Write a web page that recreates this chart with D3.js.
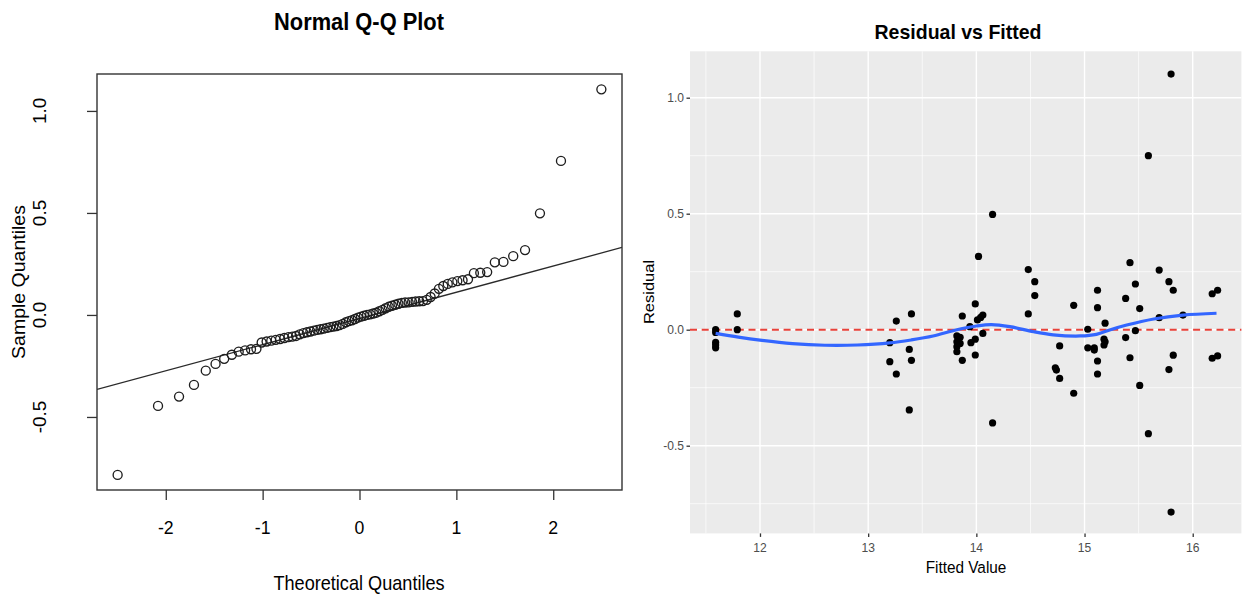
<!DOCTYPE html>
<html>
<head>
<meta charset="utf-8">
<script src="https://cdn.jsdelivr.net/npm/d3@7"></script>
<style>
  html, body { margin: 0; padding: 0; background: #ffffff; }
  svg { display: block; }
  text { font-family: "Liberation Sans", Arial, Helvetica, sans-serif; }
</style>
</head>
<body>
<svg id="chart" width="1244" height="597"></svg>
<script>
// ---- Normal Q-Q data: theoretical normal quantiles (ppoints, n = 80) and sorted residuals
const qqTheoretical = [
  -2.497, -2.080, -1.863, -1.709, -1.587, -1.486, -1.397, -1.318, -1.247, -1.181,
  -1.120, -1.064, -1.010, -0.959, -0.911, -0.865, -0.820, -0.776, -0.734, -0.694,
  -0.655, -0.617, -0.579, -0.543, -0.507, -0.471, -0.437, -0.402, -0.369, -0.335,
  -0.302, -0.270, -0.237, -0.205, -0.173, -0.141, -0.110, -0.078, -0.047, -0.016,
   0.016,  0.047,  0.078,  0.110,  0.141,  0.173,  0.205,  0.237,  0.270,  0.302,
   0.335,  0.369,  0.402,  0.437,  0.471,  0.507,  0.543,  0.579,  0.617,  0.655,
   0.694,  0.734,  0.776,  0.820,  0.865,  0.911,  0.959,  1.010,  1.064,  1.120,
   1.181,  1.247,  1.318,  1.397,  1.486,  1.587,  1.709,  1.863,  2.080,  2.497
];
const qqSample = [
  -0.784, -0.446, -0.400, -0.343, -0.273, -0.240, -0.215, -0.195, -0.180, -0.174,
  -0.168, -0.166, -0.135, -0.130, -0.126, -0.122, -0.118, -0.113, -0.109, -0.106,
  -0.103, -0.095, -0.089, -0.085, -0.081, -0.077, -0.073, -0.070, -0.067, -0.063,
  -0.060, -0.057, -0.054, -0.050, -0.044, -0.036, -0.030, -0.026, -0.020, -0.013,
  -0.008, -0.004,  0.000,  0.003,  0.007,  0.011,  0.018,  0.025,  0.033,  0.040,
   0.045,  0.050,  0.055,  0.059,  0.061,  0.062,  0.064,  0.066,  0.067,  0.068,
   0.074,  0.088,  0.105,  0.128,  0.142,  0.152,  0.160,  0.166,  0.170,  0.175,
   0.205,  0.207,  0.210,  0.258,  0.260,  0.288,  0.318,  0.498,  0.755,  1.106
];
const qqXTicks = [-2, -1, 0, 1, 2];
const qqYTicks = [-0.5, 0.0, 0.5, 1.0];

// ---- Residual vs fitted data
const fittedValues = [
  11.59, 11.59, 11.59, 11.59, 11.59, 11.79, 11.79,
  13.20, 13.20, 13.26, 13.26, 13.40, 13.38, 13.40, 13.38,
  13.87, 13.94, 13.82, 13.85, 13.82, 13.85, 13.82, 13.82, 13.87, 13.95,
  13.99, 13.99, 14.06, 13.99, 14.01, 14.04, 14.06, 14.02,
  14.15, 14.15, 14.48, 14.54, 14.54, 14.48,
  14.77, 14.73, 14.74, 14.77, 14.90, 14.90,
  15.03, 15.03, 15.09, 15.09, 15.12, 15.12, 15.12, 15.19, 15.18, 15.18, 15.19, 15.12,
  15.42, 15.47, 15.38, 15.51, 15.59, 15.38, 15.47, 15.42, 15.51, 15.59,
  15.80, 15.69, 15.78, 15.82, 15.69, 15.91, 15.80, 15.78, 15.82,
  16.18, 16.23, 16.18, 16.23
];
const residualValues = [
  0.000, -0.012, -0.055, -0.066, -0.078, 0.068, 0.000,
  -0.056, -0.138, 0.037, -0.191, 0.068, -0.085, -0.132, -0.346,
  0.059, 0.013, -0.027, -0.033, -0.052, -0.059, -0.073, -0.095, -0.132, -0.056,
  -0.041, -0.109, -0.016, 0.111, 0.042, 0.053, 0.063, 0.316,
  0.497, -0.402, 0.259, 0.207, 0.147, 0.068,
  -0.070, -0.164, -0.174, -0.210, -0.274, 0.105,
  0.002, -0.078, -0.078, -0.088, -0.135, -0.191, 0.095, 0.028, -0.041, -0.066, -0.052, 0.170,
  0.289, 0.197, 0.135, 0.091, 0.750, -0.034, -0.004, -0.121, -0.240, -0.448,
  1.102, 0.257, 0.207, 0.170, 0.052, 0.063, -0.786, -0.172, -0.110,
  0.155, 0.170, -0.123, -0.113
];
// Loess smoother evaluated along the fitted range
const smoothFitted = [11.59, 11.8, 12.0, 12.3, 12.6, 12.9, 13.2, 13.4, 13.6, 13.82, 14.0, 14.14,
  14.31, 14.53, 14.71, 14.96, 15.11, 15.24, 15.39, 15.64, 15.91, 16.22];
const smoothResidual = [-0.016, -0.032, -0.045, -0.060, -0.067, -0.066, -0.057, -0.044, -0.027, 0.000, 0.016, 0.022,
  0.013, -0.009, -0.022, -0.027, -0.020, 0.000, 0.020, 0.046, 0.063, 0.071];
const rvXTicks = [12, 13, 14, 15, 16];
const rvXMinor = [11.5, 12.5, 13.5, 14.5, 15.5];
const rvYTicks = [-0.5, 0.0, 0.5, 1.0];
const rvYMinor = [-0.75, -0.25, 0.25, 0.75];

const svg = d3.select("#chart");
const SX = 0.93; // horizontal squeeze applied to lettering

function label(g, x, y, str, o) {
  o = o || {};
  const t = g.append("text")
    .attr("transform", `translate(${x},${y}) scale(${SX},1)` + (o.rotate ? " rotate(-90)" : ""))
    .attr("text-anchor", o.anchor || "middle")
    .attr("dominant-baseline", o.baseline || "central")
    .attr("font-size", o.size || 16)
    .attr("fill", o.fill || "#000")
    .text(str);
  if (o.bold) t.attr("font-weight", "bold");
  return t;
}

// ================= Left panel: Normal Q-Q plot =================
const qx = d3.scaleLinear().domain([-2.71, 2.71]).range([97, 622]);
const qy = d3.scaleLinear().domain([-0.858, 1.181]).range([490, 74]);
const left = svg.append("g");

// qqline through the first and third quartiles
const q1 = d3.quantile(qqSample, 0.25), q3 = d3.quantile(qqSample, 0.75);
const zq = 0.6745;
const slope = (q3 - q1) / (2 * zq);
const intercept = q1 + zq * slope;
left.append("clipPath").attr("id", "qqclip").append("rect")
  .attr("x", qx.range()[0]).attr("y", qy.range()[1])
  .attr("width", qx.range()[1] - qx.range()[0]).attr("height", qy.range()[0] - qy.range()[1]);
left.append("line").attr("clip-path", "url(#qqclip)")
  .attr("x1", qx(-2.71)).attr("y1", qy(intercept + slope * -2.71))
  .attr("x2", qx(2.71)).attr("y2", qy(intercept + slope * 2.71))
  .attr("stroke", "#2a2a2a").attr("stroke-width", 1.3);

left.selectAll("circle.qq").data(qqSample).join("circle")
  .attr("class", "qq")
  .attr("cx", (d, i) => qx(qqTheoretical[i]))
  .attr("cy", d => qy(d))
  .attr("r", 4.5)
  .attr("fill", "none").attr("stroke", "#1e1e1e").attr("stroke-width", 1.35);

left.append("rect")
  .attr("x", 97).attr("y", 74).attr("width", 525).attr("height", 416)
  .attr("fill", "none").attr("stroke", "#333").attr("stroke-width", 1.4);

// axes
const qxAxis = left.append("g").attr("transform", "translate(0,490)")
  .call(d3.axisBottom(qx).tickValues(qqXTicks).tickSize(10).tickFormat(""));
qxAxis.select(".domain").remove();
qxAxis.selectAll("line").attr("stroke", "#333").attr("stroke-width", 1.3);
qqXTicks.forEach(v => label(left, qx(v), 527, d3.format("d")(v).replace("−", "-"), { size: 19 }));

const qyAxis = left.append("g").attr("transform", "translate(97,0)")
  .call(d3.axisLeft(qy).tickValues(qqYTicks).tickSize(10).tickFormat(""));
qyAxis.select(".domain").remove();
qyAxis.selectAll("line").attr("stroke", "#333").attr("stroke-width", 1.3);
qqYTicks.forEach(v => label(left, 40, qy(v), d3.format(".1f")(v).replace("−", "-"), { size: 19, rotate: true }));

label(left, 359, 22, "Normal Q-Q Plot", { size: 23.5, bold: true });
label(left, 359, 583, "Theoretical Quantiles", { size: 19.5 });
label(left, 19, 282, "Sample Quantiles", { size: 19.5, rotate: true });

// ================= Right panel: Residual vs Fitted =================
const rx = d3.scaleLinear().domain([11.353, 16.45]).range([690, 1241.4]);
const ry = d3.scaleLinear().domain([-0.878, 1.200]).range([533.4, 51.3]);
const right = svg.append("g");
const [px0, px1] = rx.range(), [py1, py0] = ry.range();

right.append("rect").attr("x", px0).attr("y", py0)
  .attr("width", px1 - px0).attr("height", py1 - py0).attr("fill", "#ebebeb");

// grid
right.selectAll("line.vminor").data(rvXMinor).join("line").attr("class", "vminor")
  .attr("x1", d => rx(d)).attr("x2", d => rx(d)).attr("y1", py0).attr("y2", py1)
  .attr("stroke", "#fff").attr("stroke-width", 0.7);
right.selectAll("line.hminor").data(rvYMinor).join("line").attr("class", "hminor")
  .attr("y1", d => ry(d)).attr("y2", d => ry(d)).attr("x1", px0).attr("x2", px1)
  .attr("stroke", "#fff").attr("stroke-width", 0.7);
right.selectAll("line.vmajor").data(rvXTicks).join("line").attr("class", "vmajor")
  .attr("x1", d => rx(d)).attr("x2", d => rx(d)).attr("y1", py0).attr("y2", py1)
  .attr("stroke", "#fff").attr("stroke-width", 1.4);
right.selectAll("line.hmajor").data(rvYTicks).join("line").attr("class", "hmajor")
  .attr("y1", d => ry(d)).attr("y2", d => ry(d)).attr("x1", px0).attr("x2", px1)
  .attr("stroke", "#fff").attr("stroke-width", 1.4);

// zero reference line
right.append("line")
  .attr("x1", px0).attr("x2", px1).attr("y1", ry(0)).attr("y2", ry(0))
  .attr("stroke", "#e8423a").attr("stroke-width", 2).attr("stroke-dasharray", "7,4.7");

// points
right.selectAll("circle.pt").data(residualValues).join("circle").attr("class", "pt")
  .attr("cx", (d, i) => rx(fittedValues[i]))
  .attr("cy", d => ry(d))
  .attr("r", 3.6).attr("fill", "#000");

// smoother
const smoothLine = d3.line().curve(d3.curveCatmullRom.alpha(0.5))
  .x((d, i) => rx(smoothFitted[i])).y(d => ry(d));
right.append("path").datum(smoothResidual)
  .attr("d", smoothLine).attr("fill", "none")
  .attr("stroke", "#3366ff").attr("stroke-width", 3.2).attr("stroke-linecap", "butt");

// axes ticks
const rxAxis = right.append("g").attr("transform", `translate(0,${py1})`)
  .call(d3.axisBottom(rx).tickValues(rvXTicks).tickSize(3.5).tickFormat(""));
rxAxis.select(".domain").remove();
rxAxis.selectAll("line").attr("stroke", "#333").attr("stroke-width", 1.3);
rvXTicks.forEach(v => label(right, rx(v), 548, d3.format("d")(v), { size: 13, fill: "#4d4d4d" }));

const ryAxis = right.append("g").attr("transform", `translate(${px0},0)`)
  .call(d3.axisLeft(ry).tickValues(rvYTicks).tickSize(3.5).tickFormat(""));
ryAxis.select(".domain").remove();
ryAxis.selectAll("line").attr("stroke", "#333").attr("stroke-width", 1.3);
rvYTicks.forEach(v => label(right, 684, ry(v), d3.format(".1f")(v).replace("−", "-"), { size: 13, fill: "#4d4d4d", anchor: "end" }));

label(right, 958, 32, "Residual vs Fitted", { size: 21, bold: true });
label(right, 966, 567, "Fitted Value", { size: 16.5 });
label(right, 649, 292, "Residual", { size: 16.5, rotate: true });
</script>
</body>
</html>
